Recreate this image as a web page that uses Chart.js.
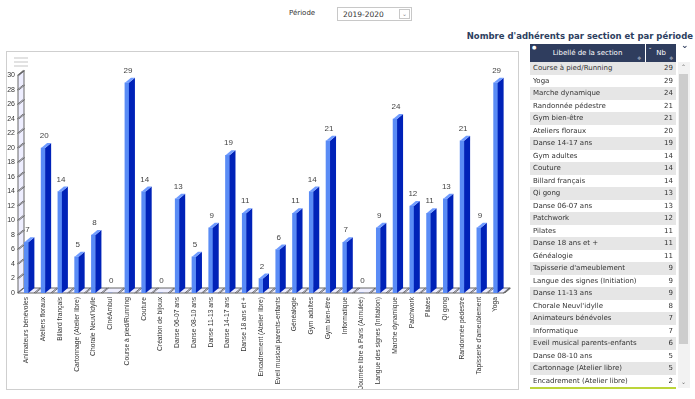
<!DOCTYPE html>
<html>
<head>
<meta charset="utf-8">
<script src="https://cdn.jsdelivr.net/npm/chart.js@4.4.1/dist/chart.umd.min.js"></script>
<style>
  body { margin: 0; width: 695px; height: 399px; background: #fff; position: relative; overflow: hidden; font-family: "DejaVu Sans", sans-serif; }
  .abs { position: absolute; }
  #periodeLbl { left: 289px; top: 9px; font-size: 7px; color: #333; }
  #select { left: 337px; top: 7px; width: 75px; height: 14px; border: 1px solid #c8c8c8; font-size: 7.5px; color: #333; box-sizing: border-box; }
  #select span { position: absolute; left: 5px; top: 2px; }
  #select .btn { position: absolute; right: 1px; top: 1px; width: 11px; height: 10px; border: 1px solid #c8c8c8; box-sizing: border-box; font-size: 6px; color: #888; text-align: center; line-height: 8px; }
  #frame { left: 6px; top: 51px; width: 513px; height: 339px; border: 1px solid #cfcfcf; box-sizing: border-box; }
  #burger div { position: absolute; left: 14px; width: 14px; height: 2px; background: #e2e2e2; }
  #titre { right: 2px; top: 31px; font-size: 8.5px; font-weight: bold; color: #2c3e60; white-space: nowrap; }
  #table { left: 530px; top: 44px; width: 146px; }
  #head { position: relative; height: 18px; background: #2f3d5e; color: #fff; font-size: 7px; }
  #head .c1 { position: absolute; left: 0; width: 115px; top: 5px; text-align: center; }
  #head .c2 { position: absolute; left: 116px; width: 30px; top: 5px; text-align: center; }
  #head .sep { position: absolute; left: 115px; top: 0; width: 1px; height: 18px; background: #fff; }
  #head .ic { position: absolute; font-size: 5px; color: #9aa3b8; }
  .row { position: relative; height: 12.5px; font-size: 7px; color: #333; line-height: 12.5px; }
  .row:nth-child(odd) { background: #e6e6e6; }
  .row .n { position: absolute; left: 3px; white-space: nowrap; }
  .row .v { position: absolute; right: 3px; }
  #vert { left: 530px; top: 387px; width: 146px; height: 2px; background: #bcd53a; }
  #scroll { left: 678px; top: 62px; width: 12px; height: 326px; background: #f2f2f2; }
  #thumb { left: 679px; top: 74px; width: 9px; height: 270px; background: #cdcdcd; }
  .arr { font-size: 6px; color: #666; }
</style>
</head>
<body>
<div id="periodeLbl" class="abs">Période</div>
<div id="select" class="abs"><span>2019-2020</span><div class="btn">&#8964;</div></div>

<div id="frame" class="abs"></div>
<canvas id="graphique" class="abs" width="511" height="337" style="left:7px;top:52px;"></canvas>
<div id="burger" class="abs" style="left:0;top:0;">
  <div style="top:57px"></div><div style="top:61px"></div><div style="top:65px"></div>
</div>

<div id="titre" class="abs">Nombre d'adhérents par section et par période</div>
<div id="table" class="abs">
  <div id="head">
    <div class="c1">Libellé de la section</div>
    <div class="sep"></div>
    <div class="c2">Nb</div>
    <div class="ic" style="left:2px;top:0px;color:#fff;">&#9679;</div>
    <div class="ic" style="left:118px;top:0px;color:#fff;">&#8964;</div>
    <div class="ic" style="left:107px;top:11px;">&#10070;</div>
    <div class="ic" style="left:139px;top:11px;">&#10070;</div>
  </div>
  <div id="rows"></div>
</div>
<div id="scroll" class="abs"></div>
<div id="thumb" class="abs"></div>
<div class="abs arr" style="left:681px;top:63px;">&#8963;</div>
<div class="abs arr" style="left:681px;top:378px;">&#8964;</div>
<div class="abs" style="left:681px;top:40px;font-size:9px;color:#2f3d5e;font-weight:bold;">&#8964;</div>
<div id="vert" class="abs"></div>

<script>
// ------------------------------------------------ DONNEES ------------------------------------------------

const sections = ["Animateurs bénévoles", "Ateliers floraux", "Billard français", "Cartonnage (Atelier libre)",
    "Chorale Neuvl'idylle", "CinéAmbul", "Course à pied/Running", "Couture", "Création de bijoux",
    "Danse 06-07 ans", "Danse 08-10 ans", "Danse 11-13 ans", "Danse 14-17 ans", "Danse 18 ans et +",
    "Encadrement (Atelier libre)", "Eveil musical parents-enfants", "Généalogie", "Gym adultes",
    "Gym bien-être", "Informatique", "Journée libre à Paris (Annulée)", "Langue des signes (Initiation)",
    "Marche dynamique", "Patchwork", "Pilates", "Qi gong", "Randonnée pédestre",
    "Tapisserie d'ameublement", "Yoga"];
const adherents = [7, 20, 14, 5, 8, 0, 29, 14, 0, 13, 5, 9, 19, 11, 2, 6, 11, 14, 21, 7, 0, 9, 24, 12, 11, 13, 21, 9, 29];
const yMax = 30;
const yPas = 2;

// ordre d'affichage du tableau (tri par nombre)
const ordreTableau = ["Course à pied/Running", "Yoga", "Marche dynamique", "Randonnée pédestre", "Gym bien-être",
    "Ateliers floraux", "Danse 14-17 ans", "Gym adultes", "Couture", "Billard français", "Qi gong",
    "Danse 06-07 ans", "Patchwork", "Pilates", "Danse 18 ans et +", "Généalogie", "Tapisserie d'ameublement",
    "Langue des signes (Initiation)", "Danse 11-13 ans", "Chorale Neuvl'idylle", "Animateurs bénévoles",
    "Informatique", "Eveil musical parents-enfants", "Danse 08-10 ans", "Cartonnage (Atelier libre)",
    "Encadrement (Atelier libre)"];

// ------------------------------------------------ TABLEAU ------------------------------------------------

const rows = document.getElementById('rows');
ordreTableau.forEach(nom => {
    const r = document.createElement('div');
    r.className = 'row';
    r.innerHTML = `<span class="n">${nom}</span><span class="v">${adherents[sections.indexOf(nom)]}</span>`;
    rows.appendChild(r);
});

// ------------------------------------------------ EFFET 3D ------------------------------------------------

const DX = 6, DY = 5;

function doubleTrait(ctx, x1, y1, x2, y2) {
    ctx.strokeStyle = '#555';
    ctx.lineWidth = 0.8;
    ctx.beginPath(); ctx.moveTo(x1 - 0.8, y1); ctx.lineTo(x2 - 0.8, y2); ctx.stroke();
    ctx.beginPath(); ctx.moveTo(x1 + 0.8, y1); ctx.lineTo(x2 + 0.8, y2); ctx.stroke();
}

const relief = {
    id: 'relief',
    beforeDatasetsDraw(chart) {
        const ctx = chart.ctx;
        const a = chart.chartArea;
        const y = chart.scales.y;
        ctx.save();
        // mur gauche
        ctx.fillStyle = '#eeeeff';
        ctx.strokeStyle = '#666';
        ctx.lineWidth = 1;
        ctx.beginPath();
        ctx.moveTo(a.left, a.bottom); ctx.lineTo(a.left + DX, a.bottom - DY);
        ctx.lineTo(a.left + DX, a.top - DY); ctx.lineTo(a.left, a.top); ctx.closePath();
        ctx.fill(); ctx.stroke();
        for (let v = 0; v <= yMax; v += yPas) {
            const py = y.getPixelForValue(v);
            doubleTrait(ctx, a.left, py, a.left + DX, py - DY);
        }
        // sol
        ctx.fillStyle = '#eeeeff';
        ctx.strokeStyle = '#666';
        ctx.lineWidth = 1;
        ctx.beginPath();
        ctx.moveTo(a.left, a.bottom); ctx.lineTo(a.right, a.bottom);
        ctx.lineTo(a.right + DX, a.bottom - DY); ctx.lineTo(a.left + DX, a.bottom - DY); ctx.closePath();
        ctx.fill(); ctx.stroke();
        const w = (a.right - a.left) / sections.length;
        for (let k = 1; k <= sections.length; k++) {
            const px = a.left + k * w;
            doubleTrait(ctx, px, a.bottom, px + DX, a.bottom - DY);
        }
        ctx.restore();
    },
    afterDatasetsDraw(chart) {
        const ctx = chart.ctx;
        const meta = chart.getDatasetMeta(0);
        ctx.save();
        meta.data.forEach((bar, i) => {
            const l = bar.x - bar.width / 2, r = bar.x + bar.width / 2;
            if (adherents[i] > 0) {
                ctx.fillStyle = '#0022b8';
                ctx.beginPath();
                ctx.moveTo(r, bar.y); ctx.lineTo(r + DX, bar.y - DY);
                ctx.lineTo(r + DX, bar.base - DY); ctx.lineTo(r, bar.base); ctx.closePath();
                ctx.fill();
                ctx.fillStyle = '#6f9bff';
                ctx.beginPath();
                ctx.moveTo(l, bar.y); ctx.lineTo(r, bar.y);
                ctx.lineTo(r + DX, bar.y - DY); ctx.lineTo(l + DX, bar.y - DY); ctx.closePath();
                ctx.fill();
            }
            ctx.fillStyle = '#444';
            ctx.font = '8px Arial';
            ctx.textAlign = 'center';
            ctx.textBaseline = 'middle';
            ctx.fillText(adherents[i], bar.x + 1, bar.y - 12);
        });
        ctx.restore();
    }
};

// ------------------------------------------------ GRAPHIQUE ------------------------------------------------

const configAdherents = {
    type: 'bar',
    data: {
        labels: sections,
        datasets: [{
            label: 'Adhérents',
            data: adherents,
            backgroundColor: '#5a8cf6',
            barThickness: 4
        }]
    },
    options: {
        responsive: false,
        animation: false,
        devicePixelRatio: 1,
        layout: { padding: { top: 23.5, right: 14, left: 0, bottom: 0 } },
        plugins: { legend: { display: false }, tooltip: { enabled: false } },
        scales: {
            x: {
                grid: { display: false, drawTicks: false },
                border: { display: false },
                ticks: {
                    autoSkip: false, maxRotation: 90, minRotation: 90, padding: 4,
                    color: '#333', font: { size: 6.7, family: 'Arial' }
                },
                afterFit: s => { s.height = 96; }
            },
            y: {
                min: 0, max: yMax,
                grid: { display: false, drawTicks: false },
                border: { display: false },
                ticks: { stepSize: yPas, autoSkip: false, padding: 3, color: '#333', font: { size: 7, family: 'Arial' } },
                afterFit: s => { s.width = 11; }
            }
        }
    },
    plugins: [relief]
};

var adherentsChart = new Chart(document.getElementById('graphique'), configAdherents);
</script>
</body>
</html>
